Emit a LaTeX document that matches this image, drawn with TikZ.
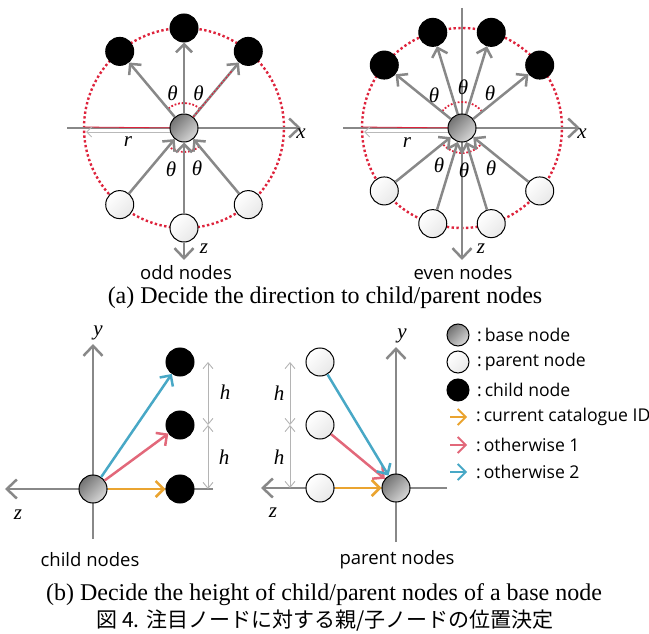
\documentclass[tikz,border=0pt]{standalone}
\usepackage{fontspec}
\setmainfont{Liberation Serif}
\newfontfamily\labsans{Open Sans}
\newfontfamily\jpfont{Noto Sans CJK JP}
\usetikzlibrary{arrows.meta,calc}

\definecolor{axisgray}{RGB}{136,136,136}
\definecolor{dotred}{RGB}{222,35,60}
\definecolor{dimgray}{RGB}{180,180,180}
\definecolor{curorange}{RGB}{234,164,48}
\definecolor{othpink}{RGB}{226,104,122}
\definecolor{othcyan}{RGB}{72,168,198}

\tikzset{
  x=1pt, y=1pt,
  nodeball/.style={circle, draw=black, line width=1pt, inner sep=0pt, minimum size=#1},
  nodeball/.default=28pt,
  basenode/.style={nodeball=#1, top color=gray!90!black, bottom color=gray!30, shading angle=45},
  basenode/.default=28pt,
  parentnode/.style={nodeball=#1, top color=white, bottom color=gray!18, shading angle=45},
  parentnode/.default=28pt,
  childnode/.style={nodeball=#1, fill=black},
  childnode/.default=28pt,
  axisline/.style={draw=axisgray, line width=2.5pt},
  axisarrow/.style={axisline, -{Straight Barb[length=10pt,width=19pt]}},
  grayarrow/.style={draw=axisgray, line width=2.5pt, -{Straight Barb[length=8pt,width=16pt]}},
  colarrow/.style={draw=#1, line width=2.5pt, -{Straight Barb[length=8pt,width=16pt]}},
  redcircle/.style={draw=dotred, line width=2.4pt, dash pattern=on 2.4pt off 2.4pt},
  redarc/.style={draw=dotred, line width=1.8pt, dash pattern=on 1.8pt off 1.8pt},
  rline/.style={draw=dotred, line width=0.8pt},
  rarrow/.style={draw=gray!55, line width=0.9pt, -{Straight Barb[length=5pt,width=10pt]}},
  dimline/.style={draw=dimgray, line width=0.9pt,
    {Straight Barb[length=6pt,width=10pt]}-{Straight Barb[length=6pt,width=10pt]}},
  mathlab/.style={font=\fontsize{21}{24}\selectfont\itshape, inner sep=0pt},
  sanslab/.style={font=\labsans\fontsize{18.5}{22}\selectfont, inner sep=0pt},
  legendlab/.style={font=\labsans\fontsize{17.6}{20}\selectfont, inner sep=0pt, anchor=west},
  caption/.style={font=\fontsize{24}{28}\selectfont, inner sep=0pt},
}

\begin{document}
\begin{tikzpicture}
\useasboundingbox (0,0) rectangle (649,-634);

% ---------------- odd nodes ----------------
\coordinate (ocen) at (184,-128);
\draw[redcircle] (ocen) circle (100);
\coordinate (oxl) at (67,-128);
\coordinate (oxr) at (301,-128);
\draw[axisarrow] (oxl) -- (oxr);
\coordinate (orl) at (84,-127);
\draw[rline] (orl) -- (ocen);
\coordinate (ors) at (172,-132);
\coordinate (ore) at (86,-132);
\draw[rarrow] (ors) -- (ore);
\draw[redarc] (ocen) ++(50:25) arc (50:130:25);
\draw[redarc] (ocen) ++(228:24) arc (228:312:24);

\node[basenode] (o1) at (ocen) {};
\node[childnode] (oc1) at ($(ocen)+(130:100)$) {};
\node[childnode] (oc2) at ($(ocen)+(90:100)$) {};
\node[childnode] (oc3) at ($(ocen)+(50:100)$) {};
\node[parentnode] (op1) at ($(ocen)+(230:100)$) {};
\node[parentnode] (op2) at ($(ocen)+(270:100)$) {};
\node[parentnode] (op3) at ($(ocen)+(310:100)$) {};

\draw[grayarrow] (o1) -- (oc1);
\draw[grayarrow] (o1) -- (oc2);
\draw[grayarrow] (o1) -- (oc3);
\draw[redarc, line width=1.2pt, shorten >=10pt] (o1) -- (oc3);
\draw[grayarrow] (op1) -- (o1);
\draw[grayarrow] (op2) -- (o1);
\draw[grayarrow] (op3) -- (o1);
\coordinate (oz) at (184,-260);
\draw[axisarrow] (op2) -- (oz);

\node[mathlab] (oth1) at (172.5,-93) {θ};
\node[mathlab] (oth2) at (198.5,-93) {θ};
\node[mathlab] (oth3) at (171,-169) {θ};
\node[mathlab] (oth4) at (197,-168) {θ};
\node[mathlab] (oxlab) at (301,-134) {x};
\node[mathlab] (ozlab) at (204,-249) {z};
\node[mathlab] (orlab) at (128,-142) {r};
\node[sanslab] (oddlab) at (186,-273) {odd nodes};

% ---------------- even nodes ----------------
\coordinate (ecen) at (462,-128);
\draw[redcircle] (ecen) circle (100);
\coordinate (ext) at (462,-8);
\coordinate (ezb) at (462,-260);
\draw[axisarrow] (ext) -- (ezb);
\coordinate (exl) at (343,-128);
\coordinate (exr) at (580,-128);
\draw[axisarrow] (exl) -- (exr);
\coordinate (erl) at (362,-127);
\draw[rline] (erl) -- (ecen);
\coordinate (ers) at (450,-132);
\coordinate (ere) at (364,-132);
\draw[rarrow] (ers) -- (ere);
\draw[redarc] (ecen) ++(40:26) arc (40:140:26);
\draw[redarc] (ecen) ++(222:25) arc (222:318:25);

\node[basenode] (e1) at (ecen) {};
\node[childnode] (ec1) at ($(ecen)+(141:100)$) {};
\node[childnode] (ec2) at ($(ecen)+(107:100)$) {};
\node[childnode] (ec3) at ($(ecen)+(73:100)$) {};
\node[childnode] (ec4) at ($(ecen)+(39:100)$) {};
\node[parentnode] (ep1) at ($(ecen)+(219:100)$) {};
\node[parentnode] (ep2) at ($(ecen)+(253:100)$) {};
\node[parentnode] (ep3) at ($(ecen)+(287:100)$) {};
\node[parentnode] (ep4) at ($(ecen)+(321:100)$) {};

\foreach \c in {ec1,ec2,ec3,ec4} \draw[grayarrow] (e1) -- (\c);
\foreach \p in {ep1,ep2,ep3,ep4} \draw[grayarrow] (\p) -- (e1);

\node[mathlab] (eth1) at (434,-95) {θ};
\node[mathlab] (eth2) at (463,-87) {θ};
\node[mathlab] (eth3) at (490,-93) {θ};
\node[mathlab] (eth4) at (439,-165) {θ};
\node[mathlab] (eth5) at (464,-170) {θ};
\node[mathlab] (eth6) at (491,-168) {θ};
\node[mathlab] (exlab) at (582,-134) {x};
\node[mathlab] (ezlab) at (481,-249) {z};
\node[mathlab] (erlab) at (407,-143) {r};
\node[sanslab] (evenlab) at (463,-273) {even nodes};

\node[caption] (capa) at (325,-298) {(a) Decide the direction to child/parent nodes};

% ---------------- child nodes (height) ----------------
\coordinate (cyb) at (93,-539);
\coordinate (cyt) at (93,-344);
\draw[axisarrow] (cyb) -- (cyt);
\coordinate (czr) at (213,-489);
\coordinate (czl) at (5,-489);
\draw[axisarrow] (czr) -- (czl);
\coordinate (cd1) at (208,-362);
\coordinate (cd2) at (208,-425);
\coordinate (cd3) at (208,-489);
\draw[dimline] (cd1) -- (cd2);
\draw[dimline] (cd2) -- (cd3);

\node[basenode] (cb) at (93,-489) {};
\node[childnode] (cc1) at (180,-489) {};
\node[childnode] (cc2) at (180,-425) {};
\node[childnode] (cc3) at (180,-362) {};
\draw[colarrow=curorange] (cb) -- (cc1);
\draw[colarrow=othpink] (cb) -- (cc2);
\draw[colarrow=othcyan] (cb) -- (cc3);

\node[mathlab] (cylab) at (98,-333) {y};
\node[mathlab] (czlab) at (18,-515) {z};
\node[mathlab] (ch1) at (225,-392) {h};
\node[mathlab] (ch2) at (224,-457) {h};
\node[sanslab] (childlab) at (90,-560) {child nodes};

% ---------------- parent nodes (height) ----------------
\coordinate (pyb) at (396,-542);
\coordinate (pyt) at (396,-347);
\draw[axisarrow] (pyb) -- (pyt);
\coordinate (pzr) at (447,-488);
\coordinate (pzl) at (261,-488);
\draw[axisarrow] (pzr) -- (pzl);
\coordinate (pd1) at (290,-362);
\coordinate (pd2) at (290,-425);
\coordinate (pd3) at (290,-488);
\draw[dimline] (pd1) -- (pd2);
\draw[dimline] (pd2) -- (pd3);

\node[basenode] (pb) at (396,-488) {};
\node[parentnode] (pp1) at (320,-488) {};
\node[parentnode] (pp2) at (320,-425) {};
\node[parentnode] (pp3) at (320,-362) {};
\draw[colarrow=curorange] (pp1) -- (pb);
\draw[colarrow=othpink] (pp2) -- (pb);
\draw[colarrow=othcyan] (pp3) -- (pb);

\node[mathlab] (pylab) at (402,-336) {y};
\node[mathlab] (pzlab) at (273,-513) {z};
\node[mathlab] (ph1) at (279,-393) {h};
\node[mathlab] (ph2) at (279,-457) {h};
\node[sanslab] (parentlab) at (397,-560) {parent nodes};

% ---------------- legend ----------------
\node[basenode=22pt] (lgb) at (458,-335) {};
\node[parentnode=22pt] (lgp) at (458,-362) {};
\node[childnode=22pt] (lgc) at (458,-390) {};
\node[legendlab] (lgbt) at (477,-335) {:\,base node};
\node[legendlab] (lgpt) at (477,-362) {:\,parent node};
\node[legendlab] (lgct) at (477,-390) {:\,child node};

\coordinate (la1s) at (450,-417);
\coordinate (la1e) at (467,-417);
\coordinate (la2s) at (450,-445);
\coordinate (la2e) at (467,-445);
\coordinate (la3s) at (450,-472);
\coordinate (la3e) at (467,-472);
\draw[colarrow=curorange, line width=1.8pt] (la1s) -- (la1e);
\draw[colarrow=othpink, line width=1.8pt] (la2s) -- (la2e);
\draw[colarrow=othcyan, line width=1.8pt] (la3s) -- (la3e);
\node[legendlab] (lat1) at (476,-417) {:\,current catalogue ID};
\node[legendlab] (lat2) at (476,-445) {:\,otherwise 1};
\node[legendlab] (lat3) at (476,-472) {:\,otherwise 2};

% ---------------- captions ----------------
\node[caption] (capb) at (324,-595) {(b) Decide the height of child/parent nodes of a base node};
\node[caption, font=\jpfont\fontsize{21}{24}\selectfont] (capj) at (325,-621) {図 4. 注目ノードに対する親/子ノードの位置決定};
\end{tikzpicture}
\end{document}
